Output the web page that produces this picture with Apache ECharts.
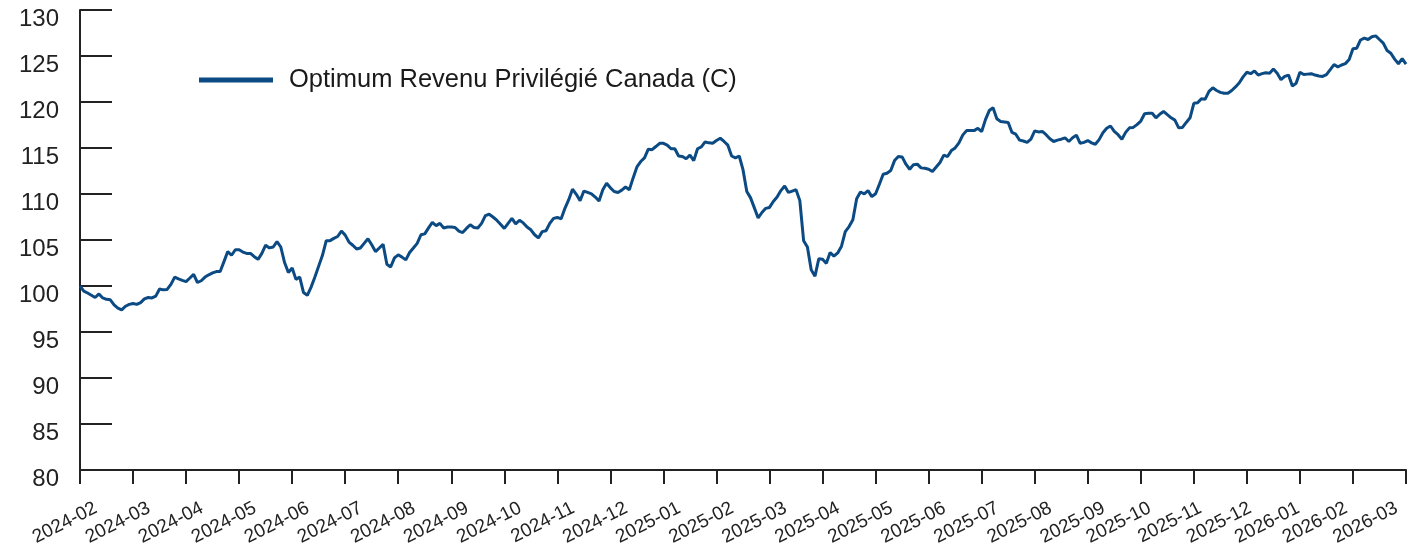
<!DOCTYPE html>
<html><head><meta charset="utf-8">
<script src="https://cdn.jsdelivr.net/npm/echarts@6/dist/echarts.min.js"></script>
<style>html,body{margin:0;padding:0;background:#fff}#c{width:1419px;height:549px}</style>
</head><body><div id="c"></div>
<script>
const seriesName = 'Optimum Revenu Privilégié Canada (C)';
const monthLabels = ['2024-02','2024-03','2024-04','2024-05','2024-06','2024-07','2024-08','2024-09','2024-10','2024-11','2024-12',
  '2025-01','2025-02','2025-03','2025-04','2025-05','2025-06','2025-07','2025-08','2025-09','2025-10','2025-11','2025-12',
  '2026-01','2026-02','2026-03'];
const sampleDays = ['01','03','05','07','09','11','13','15','17','19','21','23','25','27'];
const yTicks = [80, 130, 5];

// values, 14 samples per month (Feb 2024 - Dec 2024)
const v2024 = [
  100.0, 99.44, 99.24, 99.0, 98.75, 99.14, 98.7, 98.55, 98.5, 97.95, 97.6, 97.4, 97.8, 98.0,
  98.1, 98.0, 98.2, 98.6, 98.75, 98.7, 98.9, 99.68, 99.58, 99.63, 100.18, 100.97, 100.77, 100.62,
  100.48, 100.87, 101.27, 100.38, 100.57, 100.97, 101.22, 101.42, 101.57, 101.57, 102.65, 103.74, 103.34, 103.94,
  103.94, 103.69, 103.54, 103.54, 103.19, 102.9, 103.54, 104.43, 104.14, 104.24, 104.83, 104.24, 102.55, 101.46,
  101.96, 100.72, 100.97, 99.29, 98.99, 99.88, 100.97, 102.16, 103.34, 104.93, 104.93, 105.18, 105.38, 105.97,
  105.53, 104.78, 104.43, 104.03, 104.13, 104.63, 105.13, 104.48, 103.74, 104.13, 104.53, 102.36, 102.06, 103.05,
  103.39, 103.14, 102.84, 103.64, 104.13, 104.63, 105.57, 105.67, 106.32, 106.91, 106.56, 106.81, 106.31, 106.41,
  106.41, 106.36, 105.96, 105.81, 106.26, 106.66, 106.36, 106.31, 106.81, 107.65, 107.8, 107.5, 107.15, 106.71,
  106.26, 106.81, 107.35, 106.76, 107.15, 106.86, 106.41, 106.11, 105.57, 105.22, 105.91, 106.01, 106.81, 107.35,
  107.45, 107.3, 108.44, 109.38, 110.52, 109.97, 109.28, 110.32, 110.17, 110.02, 109.67, 109.23, 110.47, 111.16,
  110.67, 110.27, 110.17, 110.42, 110.76, 110.47, 111.75, 112.94, 113.53, 113.93, 114.87, 114.82, 115.16, 115.51
];
// Jan 2025 - Dec 2025
const v2025 = [
  115.51, 115.31, 114.92, 114.92, 114.13, 114.08, 113.83, 114.23, 113.63, 114.92, 115.12, 115.66, 115.56, 115.51,
  115.81, 116.06, 115.71, 115.31, 114.13, 113.93, 114.13, 112.64, 110.27, 109.58, 108.49, 107.4, 107.99, 108.44,
  108.54, 109.18, 109.67, 110.37, 110.86, 110.17, 110.32, 110.47, 109.28, 104.93, 104.23, 101.76, 101.07, 102.95,
  102.9, 102.46, 103.64, 103.24, 103.59, 104.33, 105.92, 106.46, 107.2, 109.48, 110.22, 110.02, 110.37, 109.72,
  110.02, 111.06, 112.15, 112.25, 112.55, 113.63, 114.08, 114.03, 113.24, 112.69, 113.19, 113.24, 112.84, 112.79,
  112.69, 112.44, 112.94, 113.43, 114.22, 114.07, 114.72, 115.01, 115.56, 116.4, 116.89, 116.89, 116.89, 117.14,
  116.79, 118.08, 119.07, 119.37, 118.18, 117.88, 117.83, 117.78, 116.69, 116.5, 115.86, 115.76, 115.61, 115.96,
  116.85, 116.75, 116.8, 116.45, 116.01, 115.71, 115.86, 115.96, 116.11, 115.71, 116.11, 116.4, 115.51, 115.61,
  115.81, 115.56, 115.41, 115.91, 116.65, 117.14, 117.39, 116.8, 116.45, 115.96, 116.7, 117.19, 117.24, 117.54,
  117.93, 118.72, 118.77, 118.77, 118.28, 118.67, 118.97, 118.62, 118.28, 118.03, 117.19, 117.24, 117.78, 118.28,
  119.86, 119.91, 120.36, 120.31, 121.15, 121.54, 121.25, 121.05, 120.95, 120.95, 121.25, 121.64, 122.09, 122.73,
  123.23, 123.08, 123.38, 122.93, 123.08, 123.18, 123.13, 123.58, 123.13, 122.43, 122.78, 122.93, 121.74, 122.04
];
// Jan 2026 - Feb 2026, then 2026-03-01
const v2026 = [
  123.23, 122.98, 123.03, 123.08, 122.93, 122.83, 122.78, 122.98, 123.52, 124.07, 123.82, 124.02, 124.17, 124.61,
  125.8, 125.85, 126.74, 126.94, 126.79, 127.09, 127.19, 126.79, 126.4, 125.6, 125.3, 124.66, 124.16, 124.71,
  124.11
];

const categories = [];
monthLabels.slice(0, -1).forEach(m => sampleDays.forEach(d => categories.push(m + '-' + d)));
categories.push(monthLabels[monthLabels.length - 1] + '-01');
const values = [...v2024, ...v2025, ...v2026];

// month-label placement (label anchor shift, in months, as laid out in the reference)
const lateShift = [0.17, 0.12, 0.06, -0.03, -0.13, -0.18];
const labelPos = monthLabels.map((m, i) => i + (i <= 19 ? 0.30 : lateShift[i - 20]));

const isMonthStart = (i, v) => v.endsWith('-01');
const ink = '#222222';
const font = 'Liberation Sans, Arial, sans-serif';

const chart = echarts.init(document.getElementById('c'), null, {renderer: 'canvas'});
chart.setOption({
  animation: false,
  backgroundColor: '#ffffff',
  grid: {left: 80, right: 13, top: 10, bottom: 79, containLabel: false, outerBoundsMode: 'none'},
  legend: {
    data: [seriesName], left: 194, top: 62, icon: 'rect', itemWidth: 74, itemHeight: 5,
    textStyle: {fontSize: 25.5, color: '#1a1a1a', fontFamily: font, padding: [0, 0, 0, 11]}
  },
  xAxis: [{
    type: 'category', data: categories, boundaryGap: false,
    axisLine: {lineStyle: {color: ink, width: 2}},
    axisTick: {interval: isMonthStart, length: 14, lineStyle: {color: ink, width: 2}},
    axisLabel: {show: false},
    splitLine: {show: false}
  }, {
    type: 'value', min: 0, max: monthLabels.length - 1, position: 'bottom',
    axisLine: {show: false}, axisTick: {show: false}, splitLine: {show: false},
    axisLabel: {customValues: labelPos, formatter: v => monthLabels[Math.round(v)],
      rotate: 27, margin: 37, fontSize: 19, color: ink, fontFamily: font}
  }],
  yAxis: {
    type: 'value', min: yTicks[0], max: yTicks[1], interval: yTicks[2],
    axisLine: {show: true, lineStyle: {color: ink, width: 2}},
    axisTick: {show: true, inside: true, length: 32, lineStyle: {color: ink, width: 2}},
    axisLabel: {fontSize: 24, color: ink, margin: 21, fontFamily: font, verticalAlign: 'top', lineHeight: 18},
    splitLine: {show: false}
  },
  series: [{
    name: seriesName, type: 'line', xAxisIndex: 0, data: values, showSymbol: false, symbol: 'none',
    lineStyle: {width: 3, color: '#0b4a82'}, itemStyle: {color: '#0b4a82'}
  }]
});
</script></body></html>
